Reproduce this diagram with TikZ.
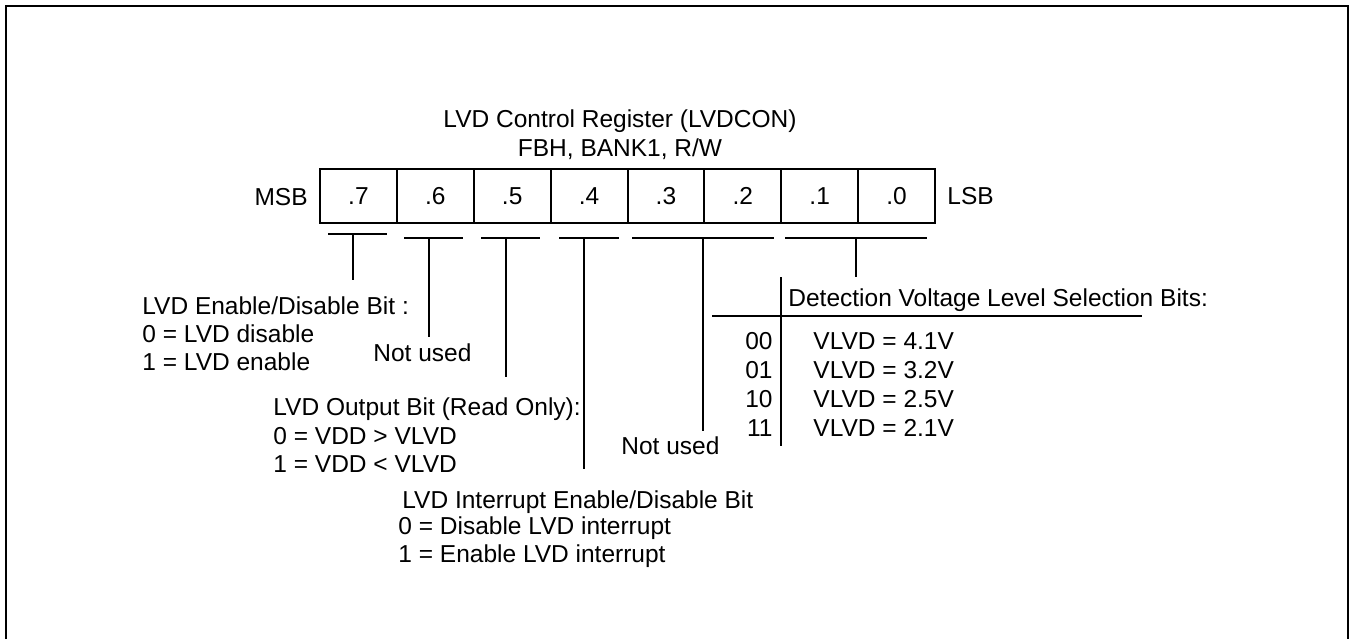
\documentclass[tikz,border=0pt]{standalone}
\usepackage{fontspec}
\setmainfont{Liberation Sans}
\newcommand{\fsz}{\fontsize{12.25pt}{14pt}\selectfont}
\begin{document}
\begin{tikzpicture}[x=0.5pt,y=-0.5pt,
  txt/.style={inner sep=0pt, font=\fsz, anchor=base west},
  txtr/.style={inner sep=0pt, font=\fsz, anchor=base east},
  txtc/.style={inner sep=0pt, font=\fsz, anchor=base},
  cell/.style={draw, line width=1pt, minimum width=38.44pt, minimum height=27pt, inner sep=0pt, font=\fsz},
  bar/.style={line width=0.75pt},
  frame/.style={line width=1pt}]
\useasboundingbox (0,0) rectangle (1352,639);
% frame
\coordinate (fbl) at (6,639);
\coordinate (ftl) at (6,6);
\coordinate (ftr) at (1348,6);
\coordinate (fbr) at (1348,639);
\draw[frame] (fbl) -- (ftl) -- (ftr) -- (fbr);
% title
\node[txtc] (t1) at (620,127) {LVD Control Register (LVDCON)};
\node[txtc] (t2) at (620,156) {FBH, BANK1, R/W};
% register
\foreach \b [count=\i from 0] in {7,6,5,4,3,2,1,0}
  \node[cell] (b\b) at ({358.44+76.875*\i},196) {.\b};
\node[txtr] (msb) at (308,205) {MSB};
\node[txt] (lsb) at (947,204) {LSB};
% underlines and leaders
\coordinate (u7a) at (328,234); \coordinate (u7b) at (387,234);
\coordinate (u7m) at (353,234); \coordinate (u7e) at (353,280);
\coordinate (u6a) at (404,238); \coordinate (u6b) at (463,238);
\coordinate (u6m) at (429,238); \coordinate (u6e) at (429,337);
\coordinate (u5a) at (481,238); \coordinate (u5b) at (540,238);
\coordinate (u5m) at (506,238); \coordinate (u5e) at (506,377);
\coordinate (u4a) at (559,238); \coordinate (u4b) at (619,238);
\coordinate (u4m) at (584,238); \coordinate (u4e) at (584,469);
\coordinate (u3a) at (632,238); \coordinate (u3b) at (774,238);
\coordinate (u3m) at (703,238); \coordinate (u3e) at (703,431);
\coordinate (u1a) at (785,238); \coordinate (u1b) at (927,238);
\coordinate (u1m) at (856,238); \coordinate (u1e) at (856,277);
\foreach \k in {7,6,5,4,3,1} {
  \draw[bar] (u\k a) -- (u\k b);
  \draw[bar] (u\k m) -- (u\k e);
}
% bit 7 description
\node[txt] (e1) at (142,314) {LVD Enable/Disable Bit :};
\node[txt] (e2) at (142,342) {0 = LVD disable};
\node[txt] (e3) at (142,370) {1 = LVD enable};
% bit 6
\node[txt] (nu1) at (373,361) {Not used};
% bit 5
\node[txt] (o1) at (273,415) {LVD Output Bit (Read Only):};
\node[txt] (o2) at (273,444) {0 = VDD > VLVD};
\node[txt] (o3) at (273,472) {1 = VDD < VLVD};
% bits 3-2
\node[txt] (nu2) at (621,454) {Not used};
% bit 4
\node[txt] (i1) at (402,508) {LVD Interrupt Enable/Disable Bit};
\node[txt] (i2) at (398,534) {0 = Disable LVD interrupt};
\node[txt] (i3) at (398,562) {1 = Enable LVD interrupt};
% detection table
\coordinate (tvt) at (781,277); \coordinate (tvb) at (781,446);
\coordinate (thl) at (712,316); \coordinate (thr) at (1142,316);
\draw[bar] (tvt) -- (tvb);
\draw[bar] (thl) -- (thr);
\node[txt] (d0) at (788,306) {Detection Voltage Level Selection Bits:};
\node[txtr] (k0) at (773,349) {00};
\node[txtr] (k1) at (773,378) {01};
\node[txtr] (k2) at (773,407) {10};
\node[txtr] (k3) at (773,436) {11};
\node[txt] (v0) at (813,349) {VLVD = 4.1V};
\node[txt] (v1) at (813,378) {VLVD = 3.2V};
\node[txt] (v2) at (813,407) {VLVD = 2.5V};
\node[txt] (v3) at (813,436) {VLVD = 2.1V};
\end{tikzpicture}
\end{document}
